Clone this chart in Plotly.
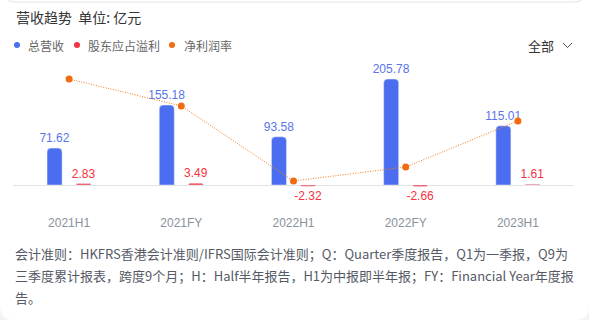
import plotly.graph_objects as go

# ---- data ----
periods = ["2021H1", "2021FY", "2022H1", "2022FY", "2023H1"]
revenue = [71.62, 155.18, 93.58, 205.78, 115.01]          # 总营收 (亿元)
profit = [2.83, 3.49, -2.32, -2.66, 1.61]                # 股东应占溢利 (亿元)
margin = [3.95, 2.25, -2.48, -1.60, 1.30]                # 净利润率 (%)
legend_names = ["总营收", "股东应占溢利", "净利润率"]

W, H = 589, 320
L, R, T, B = 13, 15, 70, 108

BLUE = "#4b6ef0"
RED = "#f5333f"
ORANGE = "#f77b1a"
FONT = "Liberation Sans, Noto Sans CJK SC, sans-serif"
CJK = "Noto Sans CJK SC, sans-serif"


def px_x(x):
    return (x - L) / (W - L - R)


def px_y(y):
    return 1 - (y - T) / (H - T - B)


fig = go.Figure()
fig.add_trace(go.Bar(
    x=periods, y=revenue, name=legend_names[0], marker_color=BLUE,
    texttemplate="%{y:.2f}", textposition="outside", cliponaxis=False,
    constraintext="none",
    textfont=dict(color="#5a74ea", size=12, family=FONT), showlegend=False))
fig.add_trace(go.Bar(
    x=periods, y=profit, name=legend_names[1], marker_color=RED,
    texttemplate="%{y:.2f}", textposition="outside", cliponaxis=False,
    constraintext="none",
    textfont=dict(color=RED, size=12, family=FONT), showlegend=False))
fig.add_trace(go.Scatter(
    x=periods, y=margin, name=legend_names[2], yaxis="y2", mode="lines+markers",
    line=dict(color=ORANGE, width=1, dash="1px,1.5px"),
    marker=dict(color="#f26b0f", size=7), cliponaxis=False, showlegend=False))

ann = []
shapes = []

# title
ann.append(dict(x=px_x(14), y=px_y(17), xref="paper", yref="paper", xanchor="left",
                yanchor="middle", showarrow=False, text="营收趋势  单位: 亿元",
                font=dict(size=14, color="#333333", family=CJK)))

# legend (manual)
leg = [(17, 26, legend_names[0], "#4b6ef0"), (77, 86, legend_names[1], "#f5333f"),
       (172, 182, legend_names[2], "#f26b0f")]
for dx, tx, name, col in leg:
    shapes.append(dict(type="circle", xref="paper", yref="paper",
                       x0=px_x(dx - 3), x1=px_x(dx + 3), y0=px_y(42), y1=px_y(48),
                       fillcolor=col, line=dict(width=0)))
    ann.append(dict(x=px_x(tx), y=px_y(45), xref="paper", yref="paper", xanchor="left",
                    yanchor="middle", showarrow=False, text=name,
                    font=dict(size=12, color="#666666", family=CJK)))

# 全部 selector
ann.append(dict(x=px_x(526), y=px_y(45), xref="paper", yref="paper", xanchor="left",
                yanchor="middle", showarrow=False, text="全部",
                font=dict(size=13, color="#333333", family=CJK)))
shapes.append(dict(type="path", xref="paper", yref="paper",
                   path=f"M {px_x(563)},{px_y(43)} L {px_x(567.5)},{px_y(47.5)} L {px_x(572)},{px_y(43)}",
                   line=dict(color="#555555", width=1)))

# top card border
shapes.append(dict(type="path", xref="paper", yref="paper",
                   path=(f"M {px_x(3)},{px_y(-10)} Q {px_x(3)},{px_y(2)} {px_x(15)},{px_y(2)} "
                         f"L {px_x(574)},{px_y(2)} Q {px_x(586)},{px_y(2)} {px_x(586)},{px_y(-10)}"),
                   line=dict(color="#e3e3e3", width=1)))

# bottom corners (grey background showing outside rounded card)
shapes.append(dict(type="path", xref="paper", yref="paper",
                   path=(f"M {px_x(0)},{px_y(306)} Q {px_x(0)},{px_y(320)} {px_x(14)},{px_y(320)} "
                         f"L {px_x(0)},{px_y(320)} Z"),
                   fillcolor="#f3f3f3", line=dict(width=0)))
shapes.append(dict(type="path", xref="paper", yref="paper",
                   path=(f"M {px_x(589)},{px_y(306)} Q {px_x(589)},{px_y(320)} {px_x(575)},{px_y(320)} "
                         f"L {px_x(589)},{px_y(320)} Z"),
                   fillcolor="#f3f3f3", line=dict(width=0)))

# note text
note_lines = [
    "会计准则：HKFRS香港会计准则/IFRS国际会计准则；Q：Quarter季度报告，Q1为一季报，Q9为",
    "三季度累计报表，跨度9个月；H：Half半年报告，H1为中报即半年报；FY：Financial Year年度报",
    "告。",
]
for i, line in enumerate(note_lines):
    ann.append(dict(x=px_x(13), y=px_y(253 + 22 * i), xref="paper", yref="paper",
                    xanchor="left", yanchor="middle", showarrow=False, text=line,
                    font=dict(size=13, color="#555a66", family=CJK)))

fig.update_layout(
    width=W, height=H,
    margin=dict(l=L, r=R, t=T, b=B),
    paper_bgcolor="white", plot_bgcolor="white",
    barmode="group", bargap=0.482, bargroupgap=0.483, barcornerradius=4,
    xaxis=dict(showgrid=False, showline=False, ticks="", zeroline=False,
               ticklabelstandoff=2,
               tickfont=dict(size=12, color="#8a919e", family=FONT), range=[-0.5, 4.5]),
    yaxis=dict(range=[-52.4, 223.3], showgrid=False, zeroline=True,
               zerolinecolor="#e2e2e2", zerolinewidth=1, showticklabels=False),
    yaxis2=dict(range=[-4.436, 4.517], overlaying="y", side="right", showgrid=False,
                zeroline=False, showticklabels=False),
    annotations=ann, shapes=shapes,
)

fig.write_html("out.html")
